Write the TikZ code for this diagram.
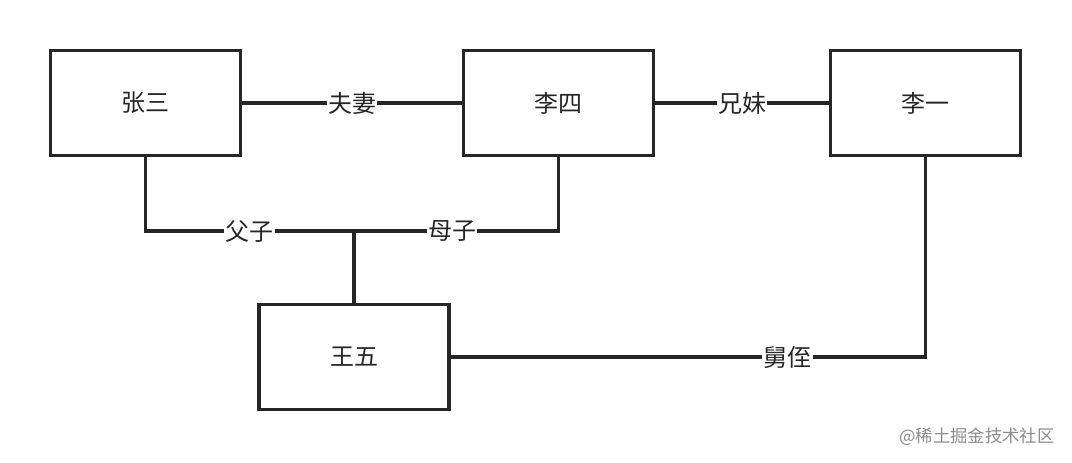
\documentclass[tikz,border=0pt]{standalone}
\usepackage{fontspec}
\setmainfont{Noto Sans CJK SC}
\usepackage{tikz}
\usetikzlibrary{positioning}

\tikzset{
	person/.style={draw=black!85, line width=2.4pt, minimum width=142.5pt, minimum height=78.75pt, font=\fontsize{18}{20}\selectfont, text=black!85},
	link/.style={draw=black!85, line width=2.4pt},
	rel/.style={fill=white, inner sep=1pt, font=\fontsize{18}{20}\selectfont, text=black!85}
}

\begin{document}
\begin{tikzpicture}[x=0.75pt, y=-0.75pt]
		\useasboundingbox (0,0) rectangle (1072,462);
		\node[person] (zhangsan) at (145.5,103) {张三};
		\node[person] (lisi) at (558.5,103) {李四};
		\node[person] (liyi) at (925.5,103) {李一};
		\node[person] (wangwu) at (354,357) {王五};
		\coordinate (kid) at (354,231);
		\draw[link] (zhangsan) -- node[rel] {夫妻} (lisi);
		\draw[link] (lisi) -- node[rel] {兄妹} (liyi);
		\draw[link] (zhangsan.south) |- node[rel, pos=0.75] {父子} (kid);
		\draw[link] (lisi.south) |- node[rel, pos=0.76] {母子} (kid);
		\draw[link] (kid) -- (wangwu.north);
		\draw[link] (wangwu.east) -| node[rel, pos=0.355] {舅侄} (liyi.south);
		\node[text=black!45, font=\fontsize{13}{15}\selectfont] (mark) at (977,437) {@稀土掘金技术社区};
	\end{tikzpicture}
\end{document}
